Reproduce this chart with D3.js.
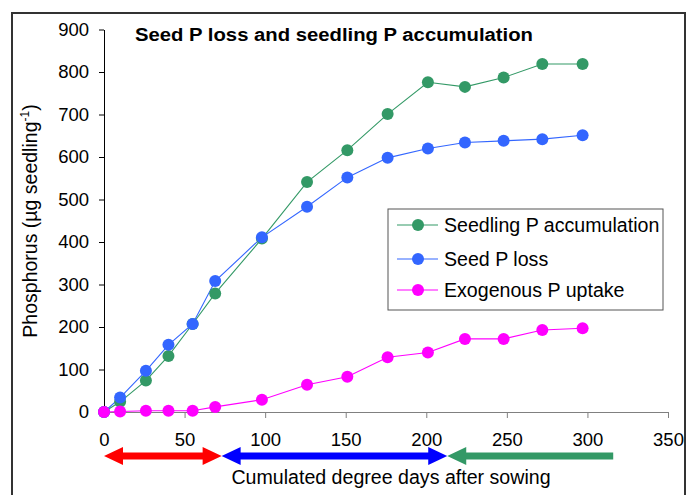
<!DOCTYPE html>
<html><head><meta charset="utf-8">
<script src="https://cdn.jsdelivr.net/npm/d3@7/dist/d3.min.js"></script>
<style>
body{margin:0;background:#fff;}
text{font-family:Arial,"Liberation Sans",sans-serif;}
</style></head>
<body>
<svg id="chart" width="697" height="495"></svg>
<script>
const days = [0, 10, 26, 40, 55, 69, 98, 126, 151, 176, 201, 224, 248, 272, 297];
const seedlingP = [0, 24, 74, 132, 207, 279, 408, 541, 616, 701, 776, 765, 787, 819, 819];
const seedPLoss = [0, 34, 97, 158, 207, 308, 411, 483, 552, 598, 620, 634, 638, 642, 651];
const exogenousP = [0, 1, 3, 3, 3, 12, 29, 64, 83, 129, 140, 172, 172, 193, 197];
const seriesNames = ["Seedling P accumulation", "Seed P loss", "Exogenous P uptake"];
const seriesColors = ["#339966", "#3366ff", "#ff00ff"];
const xTicks = [0, 50, 100, 150, 200, 250, 300, 350];
const yTicks = [0, 100, 200, 300, 400, 500, 600, 700, 800, 900];
const phaseStart = [0, 73, 213];
const phaseEnd = [73, 213, 316];
const phaseColors = ["#ff0000", "#0000ff", "#339966"];
const phaseRightHead = [true, true, false];

const svg = d3.select("#chart");
const x = d3.scaleLinear().domain([0, 350]).range([104, 668]);
const y = d3.scaleLinear().domain([0, 900]).range([412, 29.5]);

// outer frame
svg.append("path").attr("d", "M12,500 L12,13 L685,13 L685,500")
  .attr("fill", "none").attr("stroke", "#333").attr("stroke-width", 2);

// y axis
const ya = svg.append("g").attr("transform", "translate(104,0)")
  .call(d3.axisLeft(y).tickValues(yTicks).tickSize(5).tickSizeOuter(0).tickPadding(10));
ya.select(".domain").attr("stroke", "#000");
ya.selectAll(".tick line").attr("stroke", "#000");
ya.selectAll("text").attr("font-size", 18.5).attr("fill", "#000").style("font-family", "Arial, 'Liberation Sans', sans-serif");

// x axis
const xa = svg.append("g").attr("transform", "translate(0,412)")
  .call(d3.axisBottom(x).tickValues(xTicks).tickSize(6).tickSizeOuter(0).tickPadding(15));
xa.select(".domain").attr("stroke", "#808080");
xa.selectAll(".tick line").attr("stroke", "#808080");
xa.selectAll("text").attr("font-size", 18.5).attr("fill", "#000").style("font-family", "Arial, 'Liberation Sans', sans-serif");

// series
const seriesData = [seedlingP, seedPLoss, exogenousP];
const line = d3.line().x((d, i) => x(days[i])).y(d => y(d));
seriesData.forEach((vals, si) => {
  svg.append("path").datum(vals).attr("d", line)
    .attr("fill", "none").attr("stroke", seriesColors[si]).attr("stroke-width", 1.1);
});
seriesData.forEach((vals, si) => {
  svg.append("g").selectAll("circle").data(vals).join("circle")
    .attr("cx", (d, i) => x(days[i])).attr("cy", d => y(d)).attr("r", 6)
    .attr("fill", seriesColors[si]);
});

// title
svg.append("text").attr("x", 135).attr("y", 41).attr("font-size", 18).attr("font-weight", "bold")
  .attr("textLength", 398).attr("lengthAdjust", "spacingAndGlyphs")
  .attr("fill", "#000").text("Seed P loss and seedling P accumulation");

// y label
const yl = svg.append("text").attr("transform", "translate(37,221) rotate(-90)")
  .attr("text-anchor", "middle").attr("font-size", 19.5).attr("fill", "#000");
yl.append("tspan").text("Phosphorus (µg seedling");
yl.append("tspan").attr("font-size", 12).attr("dy", -8).text("-1");
yl.append("tspan").attr("dy", 8).text(")");

// x label
svg.append("text").attr("x", 391).attr("y", 484).attr("text-anchor", "middle")
  .attr("font-size", 19.6).attr("fill", "#000").text("Cumulated degree days after sowing");

// phase arrows
const ay = 456, hl = 19, hh = 9, st = 3.5;
phaseStart.forEach((s, i) => {
  const x0 = x(s), x1 = x(phaseEnd[i]);
  let d = `M${x0},${ay} L${x0 + hl},${ay - hh} L${x0 + hl},${ay - st} `;
  if (phaseRightHead[i]) {
    d += `L${x1 - hl},${ay - st} L${x1 - hl},${ay - hh} L${x1},${ay} L${x1 - hl},${ay + hh} L${x1 - hl},${ay + st} `;
  } else {
    d += `L${x1},${ay - st} L${x1},${ay + st} `;
  }
  d += `L${x0 + hl},${ay + st} L${x0 + hl},${ay + hh} Z`;
  svg.append("path").attr("d", d).attr("fill", phaseColors[i]);
});

// legend
const lg = svg.append("g");
lg.append("rect").attr("x", 388).attr("y", 209).attr("width", 275).attr("height", 101)
  .attr("fill", "#fff").attr("stroke", "#555").attr("stroke-width", 1);
const rowY = [225, 259, 290];
seriesNames.forEach((n, i) => {
  lg.append("line").attr("x1", 397).attr("x2", 438).attr("y1", rowY[i]).attr("y2", rowY[i])
    .attr("stroke", seriesColors[i]).attr("stroke-width", 1.1);
  lg.append("circle").attr("cx", 418).attr("cy", rowY[i]).attr("r", 6).attr("fill", seriesColors[i]);
  lg.append("text").attr("x", 444).attr("y", rowY[i]).attr("dy", "0.35em").attr("font-size", 19.6)
    .attr("fill", "#000").text(n);
});
</script>
</body></html>
